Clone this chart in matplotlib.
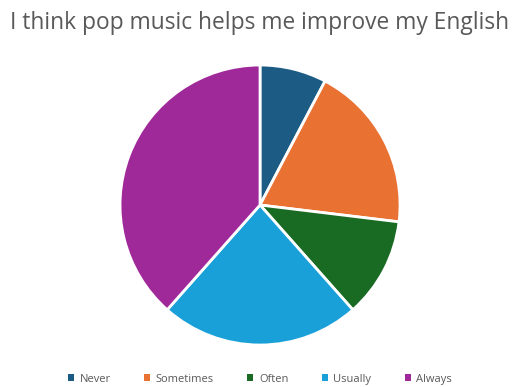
import matplotlib
matplotlib.use("Agg")
import matplotlib.pyplot as plt
from matplotlib.patches import Patch

plt.rcParams['font.family'] = ['Open Sans', 'DejaVu Sans']

categories = ["Never", "Sometimes", "Often", "Usually", "Always"]
counts = [2, 5, 3, 6, 10]
colors = ["#1c5b84", "#e97132", "#196b24", "#1aa0d8", "#a0299a"]
title = "I think pop music helps me improve my English"

fig = plt.figure(figsize=(5.2, 3.87), dpi=100)
fig.patch.set_facecolor("white")

ax = fig.add_axes([0.2308, 0.1085, 0.5385, 0.7235])
ax.pie(counts, colors=colors, startangle=90, counterclock=False,
       wedgeprops=dict(edgecolor="white", linewidth=2))
ax.set_xlim(-1.0, 1.0)
ax.set_ylim(-1.0, 1.0)
ax.set_aspect("equal")

fig.text(0.5, 0.94, title, ha="center", va="center",
         fontsize=16.4, color="#595959")

handles = [Patch(facecolor=c, edgecolor="none") for c in colors]
fig.legend(handles, categories, loc="center", bbox_to_anchor=(0.5, 0.02),
           ncol=5, frameon=False, fontsize=8, labelcolor="#595959",
           handlelength=0.55, handleheight=0.55, handletextpad=0.5,
           columnspacing=3.0)

fig.savefig("out.png", dpi=100, facecolor="white")
